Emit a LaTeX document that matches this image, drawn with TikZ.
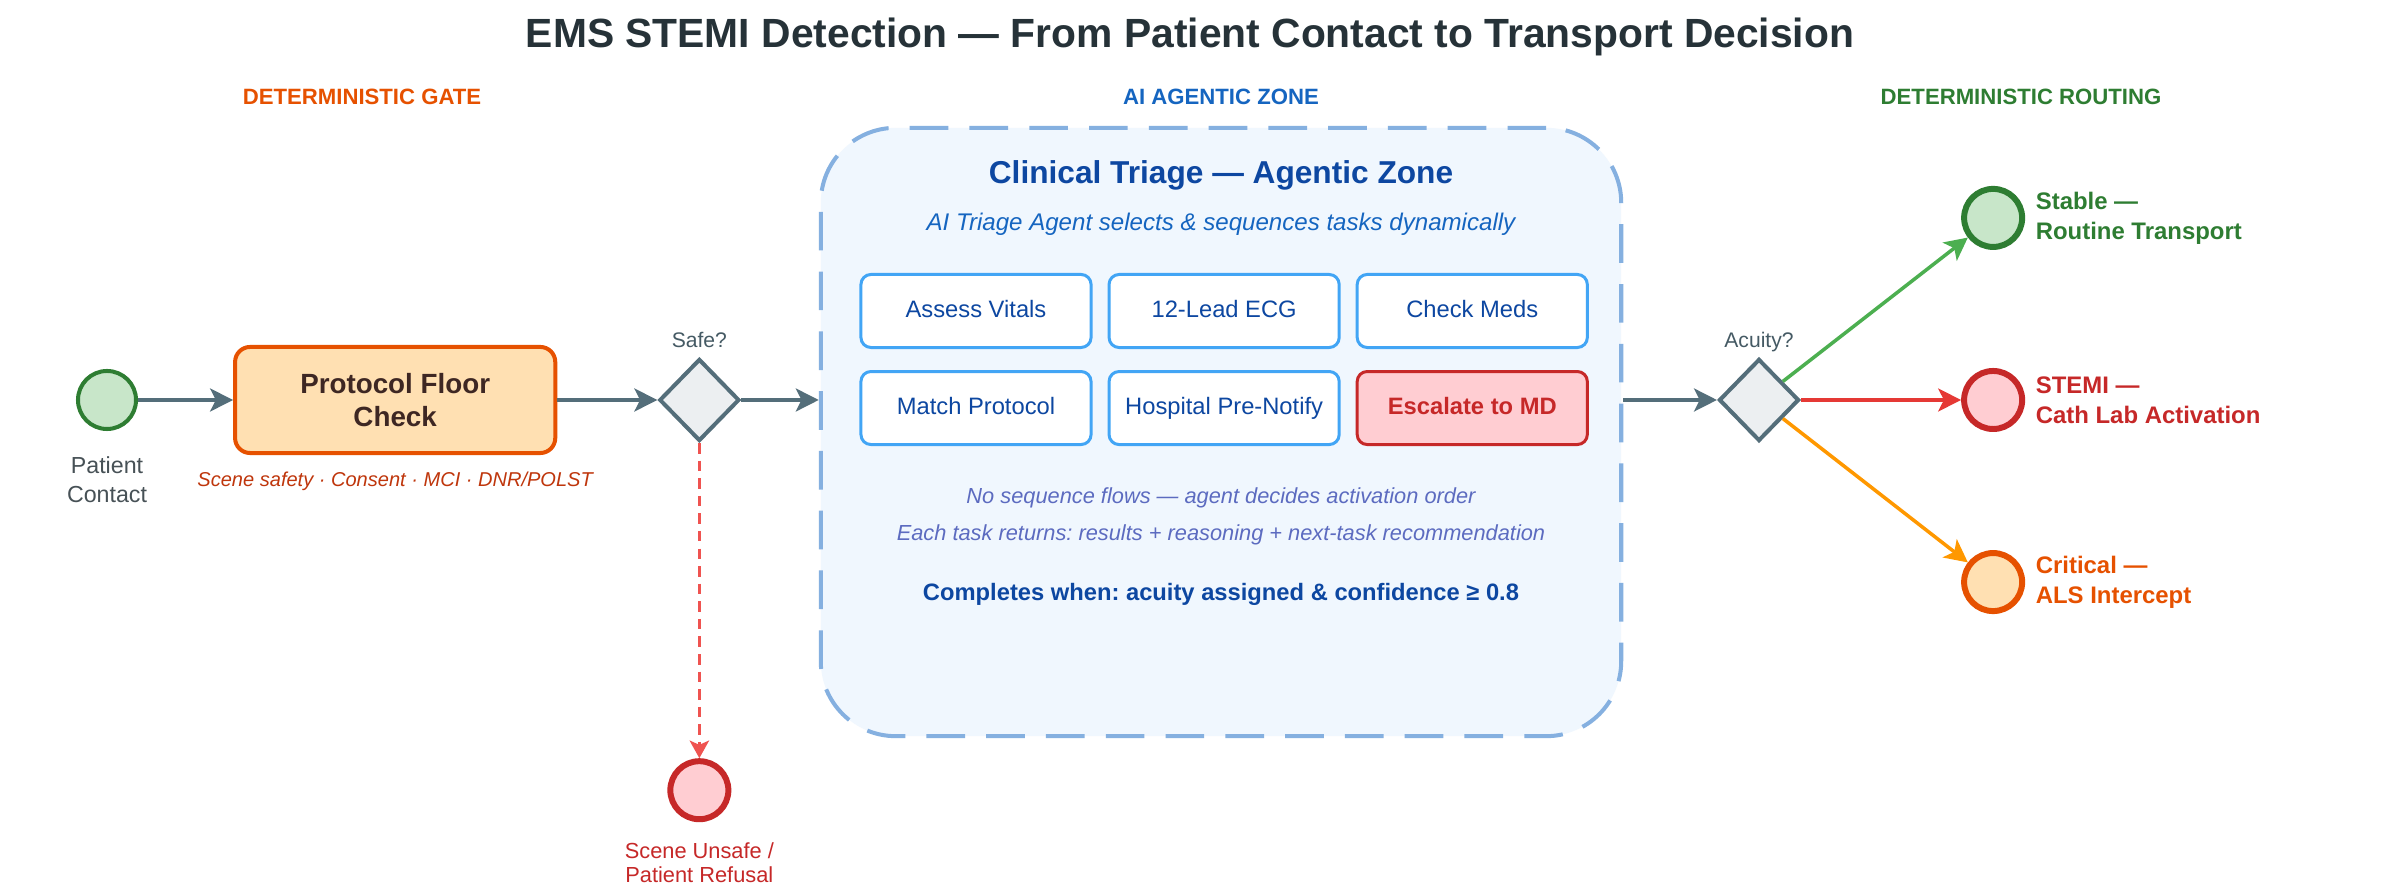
\documentclass[tikz,border=0pt]{standalone}
\usepackage{fontspec}
\setmainfont{Liberation Sans}
\usepackage{tikz}
\usetikzlibrary{positioning, arrows.meta, shapes.geometric}
\definecolor{ink}{HTML}{263238}
\definecolor{slate}{HTML}{546E7A}
\definecolor{gwfill}{HTML}{ECEFF1}
\definecolor{gwtext}{HTML}{455A64}
\definecolor{gate}{HTML}{E65100}
\definecolor{gatefill}{HTML}{FFE0B2}
\definecolor{gatetext}{HTML}{3E2723}
\definecolor{rule}{HTML}{BF360C}
\definecolor{agent}{HTML}{1565C0}
\definecolor{navy}{HTML}{0D47A1}
\definecolor{zonefill}{HTML}{F0F7FE}
\definecolor{zoneline}{HTML}{85B0E0}
\definecolor{taskline}{HTML}{42A5F5}
\definecolor{note}{HTML}{5C6BC0}
\definecolor{okdark}{HTML}{2E7D32}
\definecolor{oklight}{HTML}{C8E6C9}
\definecolor{okline}{HTML}{4CAF50}
\definecolor{stop}{HTML}{C62828}
\definecolor{stoplight}{HTML}{FFCDD2}
\definecolor{stopline}{HTML}{E53935}
\definecolor{stopdash}{HTML}{EF5350}
\definecolor{warnline}{HTML}{FF9800}
\frenchspacing

\begin{document}
\begin{tikzpicture}[x=0.01cm,y=-0.01cm,node distance=1cm]
    \tikzset{ev/.style={circle,minimum size=5.8mm,inner sep=0pt,line width=1.14pt}, endev/.style={ev,line width=1.7pt}, gw/.style={diamond,draw=slate,fill=gwfill,line width=1.14pt,minimum width=8mm,minimum height=8.2mm,inner sep=0pt}, task/.style={draw=taskline,fill=white,line width=0.85pt,rounded corners=1mm,minimum width=23mm,minimum height=7.3mm,inner sep=0pt,text height=5pt,text depth=1.5pt,text=navy,font=\fontsize{6.75}{8}\selectfont}, hdr/.style={inner sep=0pt,font=\bfseries\fontsize{6.3}{7.5}\selectfont}, lbl/.style={inner sep=0pt,align=center,font=\fontsize{6.6}{8.2}\selectfont}, gwlbl/.style={inner sep=0pt,text depth=0pt,text=gwtext,font=\fontsize{6}{7}\selectfont}, outlbl/.style={inner sep=0pt,align=left,font=\bfseries\fontsize{6.8}{8.5}\selectfont}, flow/.style={-{Stealth[length=6.5pt,width=6.5pt,inset=1.6pt]},line width=1.14pt,draw=slate}, route/.style={-{Stealth[length=6.5pt,width=6.5pt,inset=1.6pt]},line width=1pt}}
    \fill[white] (0,0) rectangle (2402,892);
    \useasboundingbox (0,0) rectangle (2402,892);
    \node[inner sep=0pt,text=ink,font=\bfseries\fontsize{11.6}{13}\selectfont] (title) at (1190,37) {EMS STEMI Detection — From Patient Contact to Transport Decision};
    \node[hdr,text=gate] (gatehdr) at (362,97) {DETERMINISTIC GATE};
    \node[hdr,text=agent] (zonehdr) at (1221,97) {AI AGENTIC ZONE};
    \node[hdr,text=okdark] (routehdr) at (2021,97) {DETERMINISTIC ROUTING};
    \node[ev,draw=okdark,fill=oklight] (pc) at (107,400) {};
    \node[lbl,text=ink!85,below=0.25cm of pc] (pclbl) {Patient\\Contact};
    \node[draw=gate,fill=gatefill,line width=1.14pt,rounded corners=1.5mm,minimum width=32mm,minimum height=10.6mm,align=center,text=gatetext,font=\bfseries\fontsize{7.9}{9.4}\selectfont,right=0.95cm of pc] (pf) {Protocol Floor\\Check};
    \node[inner sep=0pt,text=rule,font=\itshape\fontsize{5.7}{7}\selectfont,below=0.16cm of pf] (pfrules) {Scene safety · Consent · MCI · DNR/POLST};
    \node[gw,right=of pf] (safe) {};
    \node[gwlbl,above=0.09cm of safe] (safelbl) {Safe?};
    \node[endev,draw=stop,fill=stoplight,below=3.15cm of safe] (unsafe) {};
    \node[lbl,text=stop,font=\fontsize{6.2}{6.9}\selectfont,below=0.2cm of unsafe] (unsafelbl) {Scene Unsafe /\\Patient Refusal};
    \node[draw=zoneline,fill=zonefill,line width=1.14pt,dash pattern=on 11pt off 6pt,rounded corners=7.5mm,minimum width=80mm,minimum height=60.8mm] (zone) at (1221,432) {};
    \node[inner sep=0pt,text=navy,font=\bfseries\fontsize{9}{10}\selectfont] (ztitle) at (1221,175) {Clinical Triage — Agentic Zone};
    \node[inner sep=0pt,text=agent,font=\itshape\fontsize{6.85}{8}\selectfont] (zsub) at (1221,224) {AI Triage Agent selects \& sequences tasks dynamically};
    \node[task] (vit) at (976,311) {Assess Vitals};
    \node[task,right=0.15cm of vit] (ecg) {12-Lead ECG};
    \node[task,right=0.15cm of ecg] (meds) {Check Meds};
    \node[task,below=0.21cm of vit] (mp) {Match Protocol};
    \node[task,right=0.15cm of mp] (notify) {Hospital Pre-Notify};
    \node[task,right=0.15cm of notify,draw=stop,fill=stoplight,text=stop,font=\bfseries\fontsize{6.75}{8}\selectfont] (md) {Escalate to MD};
    \node[inner sep=0pt,text=note,font=\itshape\fontsize{6.2}{7.5}\selectfont] (note1) at (1221,498) {No sequence flows — agent decides activation order};
    \node[inner sep=0pt,text=note,font=\itshape\fontsize{6.2}{7.5}\selectfont] (note2) at (1221,535) {Each task returns: results + reasoning + next-task recommendation};
    \node[inner sep=0pt,text=navy,font=\bfseries\fontsize{6.75}{8}\selectfont] (done) at (1221,594) {Completes when: acuity assigned \& confidence ≥ 0.8};
    \node[gw] (acu) at (1759,400) {};
    \node[gwlbl,above=0.09cm of acu] (aculbl) {Acuity?};
    \node[endev,draw=stop,fill=stoplight,right=1.6cm of acu] (stemi) {};
    \node[endev,draw=okdark,fill=oklight,above=1.18cm of stemi] (stable) {};
    \node[endev,draw=gate,fill=gatefill,below=1.18cm of stemi] (crit) {};
    \node[outlbl,text=okdark,right=0.1cm of stable] (stablelbl) {Stable —\\Routine Transport};
    \node[outlbl,text=stop,right=0.1cm of stemi] (stemilbl) {STEMI —\\Cath Lab Activation};
    \node[outlbl,text=gate,right=0.1cm of crit] (critlbl) {Critical —\\ALS Intercept};
    \draw[flow] (pc)--(pf); \draw[flow] (pf)--(safe); \draw[flow] (safe)--(safe -| zone.west); \draw[flow] (acu -| zone.east)--(acu);
    \draw[-{Stealth[length=5pt,width=5.5pt,inset=1.2pt]},line width=0.85pt,draw=stopdash,dash pattern=on 3pt off 2pt] (safe)--(unsafe);
    \draw[route,draw=okline] (acu)--(stable); \draw[route,draw=stopline] (acu)--(stemi); \draw[route,draw=warnline] (acu)--(crit);
  \end{tikzpicture}
\end{document}
